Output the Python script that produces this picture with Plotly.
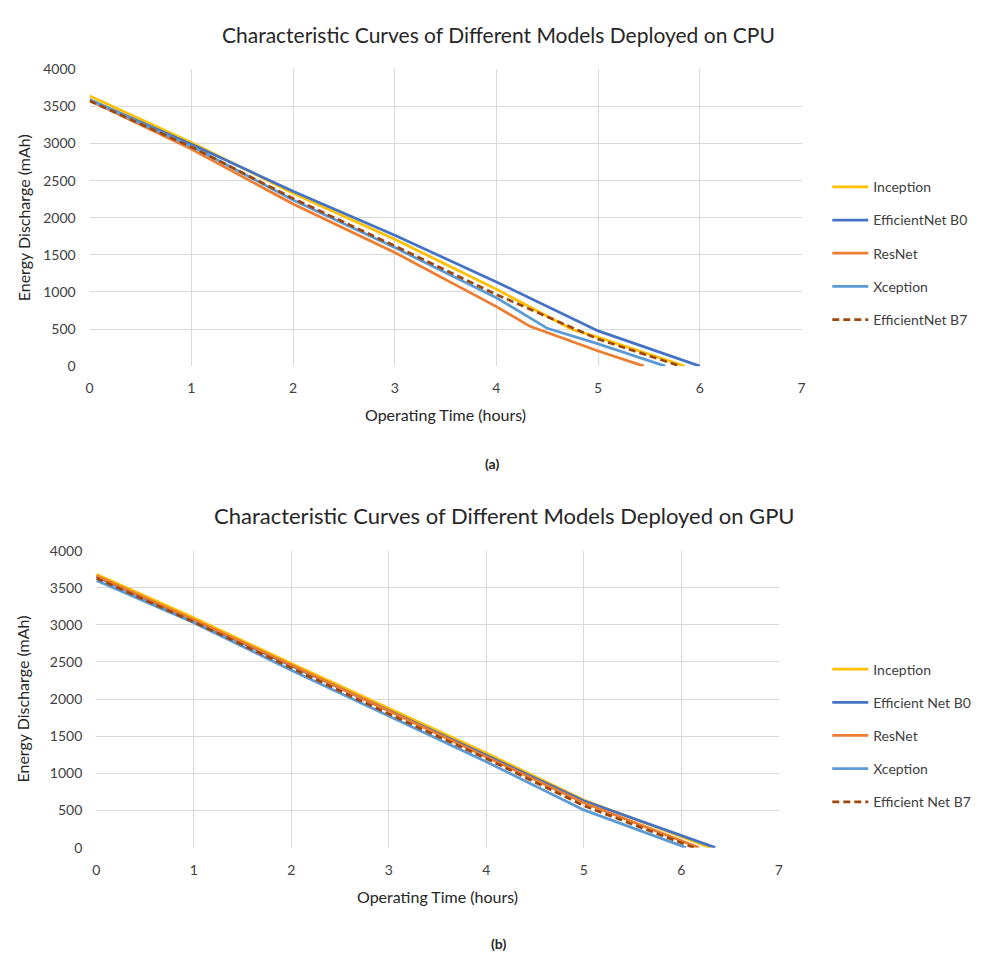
import plotly.graph_objects as go

FONT = "Lato"
COLORS = ["#FFC000", "#4472C4", "#ED7D31", "#5B9BD5", "#9E480E"]

# ---- CPU (a) ----
cpu_names = ["Inception", "EfficientNet B0", "ResNet", "Xception", "EfficientNet B7"]
cpu_inception_x = [0, 1, 2, 3, 4, 4.75, 5, 5.85]
cpu_inception_y = [3640, 3015, 2330, 1710, 1037, 490, 390, 0]
cpu_b0_x = [0, 1, 2, 3, 4, 5, 6]
cpu_b0_y = [3590, 2990, 2358, 1765, 1134, 475, 0]
cpu_resnet_x = [0, 1, 2, 3, 4, 4.33, 5, 5.45]
cpu_resnet_y = [3580, 2925, 2186, 1532, 802, 537, 205, 0]
cpu_xception_x = [0, 1, 2, 3, 4, 4.5, 5, 5.66]
cpu_xception_y = [3590, 2965, 2240, 1598, 922, 510, 300, 0]
cpu_b7_x = [0, 1, 2, 3, 4, 5, 5.81]
cpu_b7_y = [3575, 2955, 2261, 1620, 966, 365, 0]

# ---- GPU (b) ----
gpu_names = ["Inception", "Efficient Net B0", "ResNet", "Xception", "Efficient Net B7"]
gpu_inception_x = [0, 1, 2, 3, 4, 5, 6.3]
gpu_inception_y = [3683, 3095, 2480, 1880, 1275, 640, 0]
gpu_b0_x = [0, 1, 2, 3, 4, 5, 6.35]
gpu_b0_y = [3650, 3060, 2450, 1850, 1243, 630, 0]
gpu_resnet_x = [0, 1, 2, 3, 4, 5, 6.18]
gpu_resnet_y = [3660, 3070, 2460, 1840, 1225, 605, 0]
gpu_xception_x = [0, 1, 2, 3, 4, 5, 6.05]
gpu_xception_y = [3600, 3030, 2390, 1770, 1156, 508, 0]
gpu_b7_x = [0, 1, 2, 3, 4, 5, 6.13]
gpu_b7_y = [3630, 3040, 2420, 1800, 1200, 565, 0]

x_ticks = [0, 1, 2, 3, 4, 5, 6, 7]
y_ticks = [0, 500, 1000, 1500, 2000, 2500, 3000, 3500, 4000]

W, H = 981, 954
def px(x): return x / W
def py(y): return 1 - y / H

fig = go.Figure()

cpu_series = [(cpu_inception_x, cpu_inception_y), (cpu_b0_x, cpu_b0_y),
              (cpu_resnet_x, cpu_resnet_y), (cpu_xception_x, cpu_xception_y),
              (cpu_b7_x, cpu_b7_y)]
gpu_series = [(gpu_inception_x, gpu_inception_y), (gpu_b0_x, gpu_b0_y),
              (gpu_resnet_x, gpu_resnet_y), (gpu_xception_x, gpu_xception_y),
              (gpu_b7_x, gpu_b7_y)]

for i, ((xs, ys), name) in enumerate(zip(cpu_series, cpu_names)):
    fig.add_trace(go.Scatter(
        x=xs, y=ys, name=name, mode="lines", xaxis="x", yaxis="y",
        legend="legend", legendgroup="c%d" % i,
        line=dict(color=COLORS[i], width=2.75,
                  dash="7px,4px" if i == 4 else "solid")))
for i, ((xs, ys), name) in enumerate(zip(gpu_series, gpu_names)):
    fig.add_trace(go.Scatter(
        x=xs, y=ys, name=name, mode="lines", xaxis="x2", yaxis="y2",
        legend="legend2", legendgroup="g%d" % i,
        line=dict(color=COLORS[i], width=2.75,
                  dash="7px,4px" if i == 4 else "solid")))

axis_common = dict(showgrid=True, gridcolor="#D9D9D9", gridwidth=1.2,
                   zeroline=False, showline=False, ticks="",
                   tickfont=dict(family=FONT, size=14, color="#404040"))
x_common = dict(ticklabelstandoff=12, **axis_common)
y_common = dict(ticklabelstandoff=13, **axis_common)

legend_font = dict(family=FONT, size=14, color="#404040")

fig.update_layout(
    width=W, height=H, margin=dict(l=0, r=0, t=0, b=0),
    paper_bgcolor="white", plot_bgcolor="white", showlegend=True,
    xaxis=dict(domain=[px(78.3), px(796)], range=[0, 7], tickvals=x_ticks,
               anchor="y", **x_common),
    yaxis=dict(domain=[py(355.5), py(53.3)], range=[0, 4000], tickvals=y_ticks,
               anchor="x", **y_common),
    xaxis2=dict(domain=[px(85), px(773)], range=[0, 7], tickvals=x_ticks,
                anchor="y2", **x_common),
    yaxis2=dict(domain=[py(845.7), py(543.3)], range=[0, 4000], tickvals=y_ticks,
                anchor="x2", **y_common),
    legend=dict(x=px(822), y=py(157), xanchor="left", yanchor="top",
                font=legend_font, itemwidth=36,
                tracegroupgap=12, bgcolor="rgba(0,0,0,0)"),
    legend2=dict(x=px(822), y=py(648), xanchor="left", yanchor="top",
                 font=legend_font, itemwidth=36,
                 tracegroupgap=12, bgcolor="rgba(0,0,0,0)"),
)

def ann(text, x, y, size, angle=0, bold=False):
    fig.add_annotation(text=("<b>%s</b>" % text) if bold else text,
                       x=px(x), y=py(y), xref="paper", yref="paper",
                       showarrow=False, textangle=angle,
                       font=dict(family=FONT, size=size, color="#262626"),
                       xanchor="center", yanchor="middle")

ann("Characteristic Curves of Different Models Deployed on CPU", 490, 18, 21)
ann("Characteristic Curves of Different Models Deployed on GPU", 497, 508, 22)
ann("Energy Discharge (mAh)", 11, 204, 16, angle=-90)
ann("Energy Discharge (mAh)", 11, 694, 16, angle=-90)
ann("Operating Time (hours)", 437, 405, 16)
ann("Operating Time (hours)", 429, 895, 16)
ann("(a)", 484, 455, 14, bold=True)
ann("(b)", 490, 943, 14, bold=True)

fig.write_html("out.html")
